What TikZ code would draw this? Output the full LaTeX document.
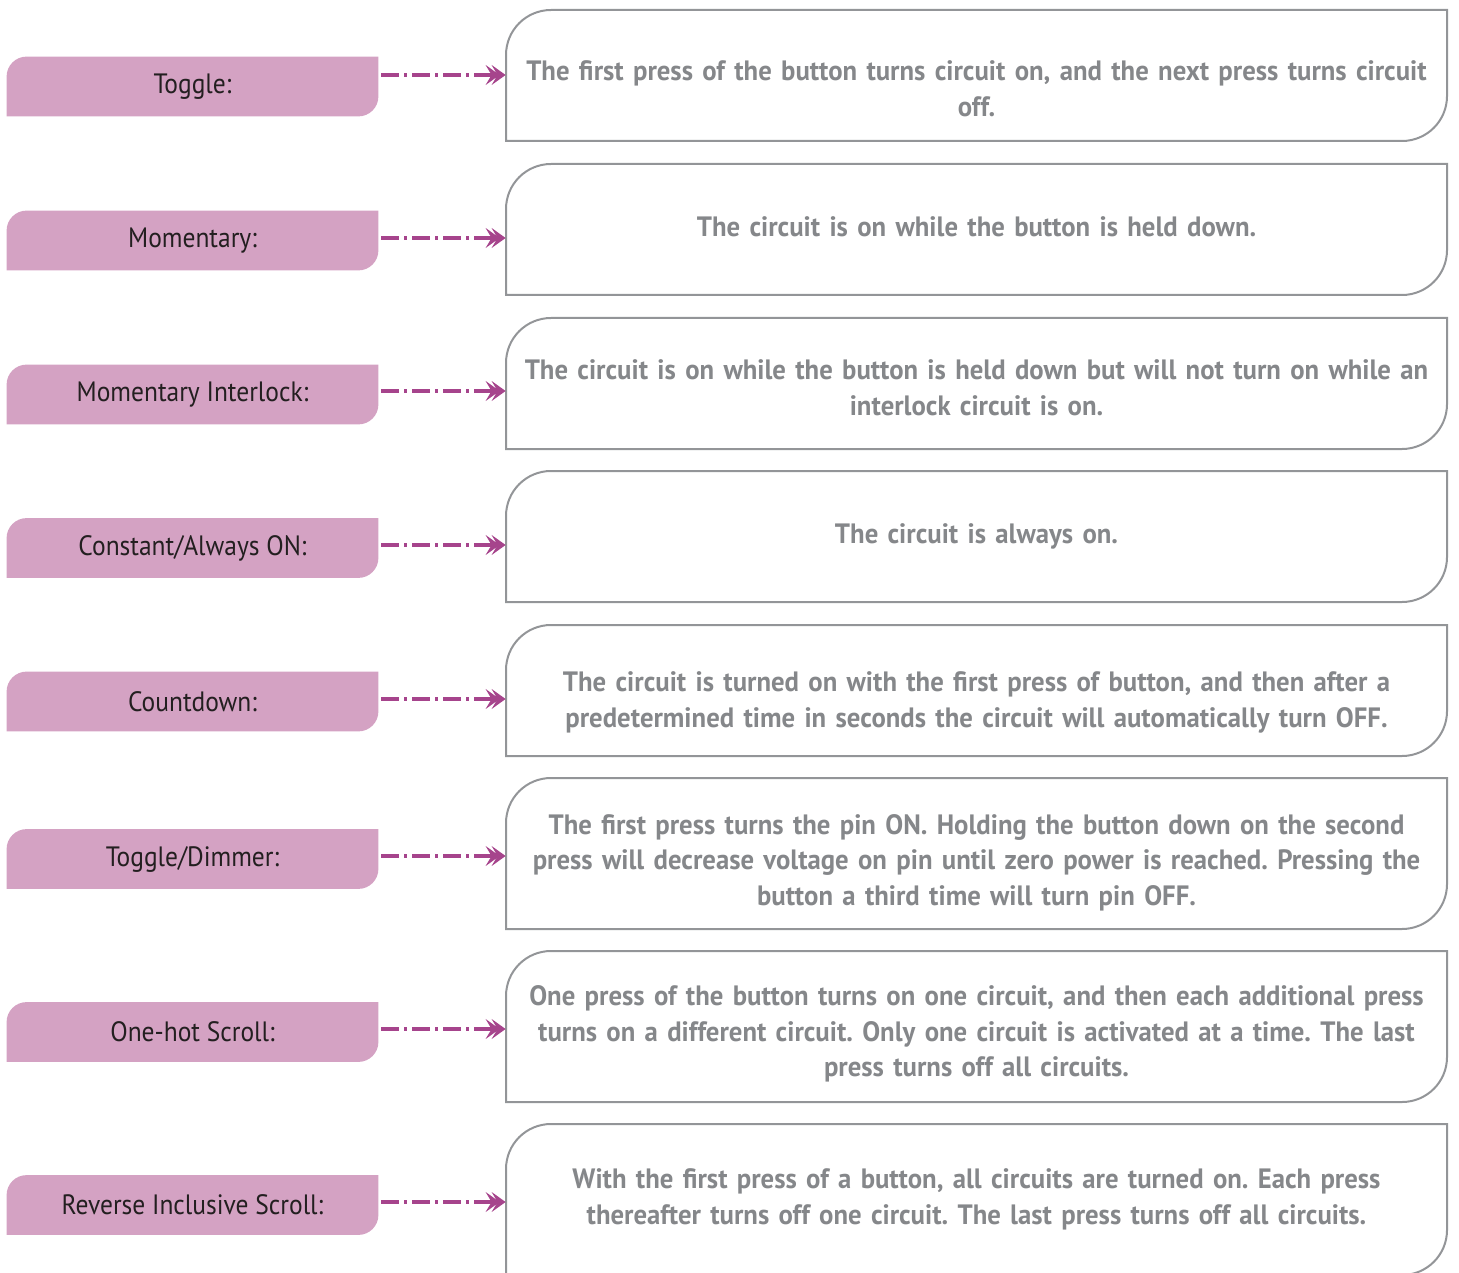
\documentclass[tikz,border=0pt]{standalone}
\usepackage{fontspec}
\newfontfamily\cardfont[FakeStretch=0.955]{PT Sans}
\newfontfamily\modefont[FakeStretch=0.91]{PT Sans}
\usepackage{xcolor}
\usetikzlibrary{arrows.meta}
\definecolor{modefill}{HTML}{D4A2C3}
\definecolor{modelink}{HTML}{A6448C}
\definecolor{cardline}{HTML}{939598}
\definecolor{cardtext}{HTML}{85878A}
\definecolor{modetext}{HTML}{231F20}
\pgfdeclarelayer{bg}
\pgfsetlayers{bg,main}

\begin{document}
\frenchspacing
\begin{tikzpicture}[x=0.5pt,y=-0.5pt,
    mode/.style={minimum width=185.5pt,minimum height=29.5pt,inner sep=0pt,
      font=\modefont\fontsize{14pt}{17pt}\selectfont,text=modetext},
    card/.style={inner sep=0pt,text width=470.5pt,align=center,
      font=\cardfont\bfseries\fontsize{14pt}{17.75pt}\selectfont,text=cardtext},
    link/.style={modelink,line width=1.75pt,
      dash pattern=on 9pt off 2.5pt on 1.5pt off 2.5pt,shorten <=1.5pt,
      -{Stealth[length=7pt,width=10pt,inset=3pt,sep=-4pt]Stealth[length=7pt,width=10pt,inset=3pt]}}]
  \useasboundingbox (0,0) rectangle (1459,1272);

  % switch modes
  \node[mode] (m1) at (192.5,86.5) {Toggle:};
  \node[mode] (m2) at (192.5,240.5) {Momentary:};
  \node[mode] (m3) at (192.5,394.5) {Momentary Interlock:};
  \node[mode] (m4) at (192.5,548) {Constant/Always ON:};
  \node[mode] (m5) at (192.5,701.5) {Countdown:};
  \node[mode] (m6) at (192.5,859) {Toggle/Dimmer:};
  \node[mode] (m7) at (192.5,1032) {One-hot Scroll:};
  \node[mode] (m8) at (192.5,1205) {Reverse Inclusive Scroll:};

  % what each mode does
  \node[card] (d1) at (976.5,88.5) {The first press of the button turns circuit on, and the next press turns circuit\\ off.};
  \node[card] (d2) at (976.5,226.5) {The circuit is on while the button is held down.};
  \node[card] (d3) at (976.5,387.5) {The circuit is on while the button is held down but will not turn on while an\\ interlock circuit is on.};
  \node[card] (d4) at (976.5,536.5) {The circuit is always on.};
  \node[card] (d5) at (976.5,702.5) {The circuit is turned on with the first press of button, and then after a\\ predetermined time in seconds the circuit will automatically turn OFF.};
  \node[card] (d6) at (976.5,862.5) {The first press turns the pin ON. Holding the button down on the second\\ press will decrease voltage on pin until zero power is reached. Pressing the\\ button a third time will turn pin OFF.};
  \node[card] (d7) at (976.5,1034) {One press of the button turns on one circuit, and then each additional press\\ turns on a different circuit. Only one circuit is activated at a time. The last\\ press turns off all circuits.};
  \node[card] (d8) at (976.5,1199.5) {With the first press of a button, all circuits are turned on. Each press\\ thereafter turns off one circuit. The last press turns off all circuits.};

  % tabs and frames
  \begin{pgfonlayer}{bg}
    \foreach \i in {1,...,8}
      \fill[modefill] (m\i.south west) -- ([yshift=-10pt]m\i.north west)
        arc[start angle=180,end angle=90,radius=10pt] -- (m\i.north east)
        -- ([yshift=10pt]m\i.south east) arc[start angle=0,end angle=-90,radius=10pt] -- cycle;
    \foreach \t/\b in {10/141,164/295,318/449,471/602,625/756,778/929,951/1102,1124/1275}
      \draw[cardline,line width=1pt] (506,\b) -- (506,\t+45)
        arc[start angle=180,end angle=90,radius=22.5pt] -- (1447,\t)
        -- (1447,\b-45) arc[start angle=0,end angle=-90,radius=22.5pt] -- cycle;
  \end{pgfonlayer}

  % arrows
  \foreach \i/\y in {1/75,2/238,3/391,4/545,5/699,6/856,7/1029,8/1202}
    \draw[link] (m\i.east |- 0,\y) -- (d\i.west |- 0,\y);
\end{tikzpicture}
\end{document}
